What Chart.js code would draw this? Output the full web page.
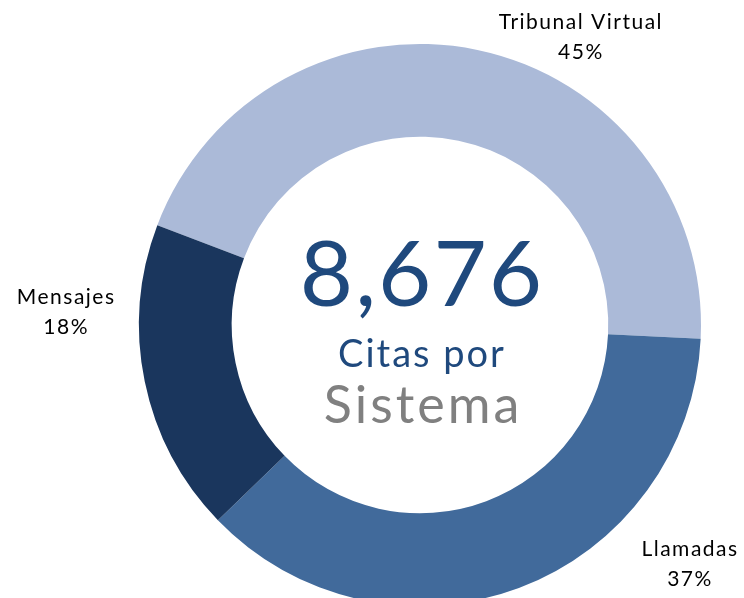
<!DOCTYPE html>
<html>
<head>
<meta charset="utf-8">
<script src="https://cdn.jsdelivr.net/npm/chart.js@4.4.1/dist/chart.umd.min.js"></script>
<style>
  html, body { margin: 0; padding: 0; background: #fff; overflow: hidden; width: 744px; height: 598px; }
  canvas { display: block; }
</style>
</head>
<body>
<canvas id="c" width="744" height="650"></canvas>
<script>
const categories = ['Tribunal Virtual', 'Llamadas', 'Mensajes'];
const citas = [3904, 3210, 1562];
const percentLabels = ['45%', '37%', '18%'];
const totalLabel = '8,676';
const centerLine1 = 'Citas por';
const centerLine2 = 'Sistema';
const colors = ['#ABBAD8', '#416A9B', '#1A365D'];

// label placement: angle (deg clockwise from top) and distance factor of outer radius
const labelPlacement = [
  { angle: 29.2, dist: 1.174 },
  { angle: 131.6, dist: 1.285 },
  { angle: 272.1, dist: 1.26 }
];

const labelPlugin = {
  id: 'outerLabels',
  afterDraw(chart) {
    const ctx = chart.ctx;
    const meta = chart.getDatasetMeta(0);
    const arc = meta.data[0];
    const cx = arc.x, cy = arc.y, r = arc.outerRadius;
    ctx.save();
    ctx.fillStyle = '#000';
    ctx.textAlign = 'center';
    ctx.textBaseline = 'middle';
    ctx.font = '21px Lato';
    try { ctx.letterSpacing = '1.5px'; } catch (e) {}
    categories.forEach((cat, i) => {
      const p = labelPlacement[i];
      const a = (p.angle - 90) * Math.PI / 180;
      const x = cx + Math.cos(a) * r * p.dist;
      const y = cy + Math.sin(a) * r * p.dist;
      ctx.fillText(cat, x, y - 15);
      ctx.fillText(percentLabels[i], x, y + 15);
    });
    // center text
    ctx.textBaseline = 'alphabetic';
    ctx.fillStyle = '#1F497D';
    try { ctx.letterSpacing = '2px'; } catch (e) {}
    ctx.font = '400 92px Lato';
    ctx.fillText(totalLabel, cx + 2, cy - 19);
    try { ctx.letterSpacing = '2px'; } catch (e) {}
    ctx.font = '400 38px Lato';
    ctx.fillText(centerLine1, cx + 2, cy + 42);
    ctx.fillStyle = '#808080';
    try { ctx.letterSpacing = '3px'; } catch (e) {}
    ctx.font = '400 52px Lato';
    ctx.fillText(centerLine2, cx + 3, cy + 98);
    ctx.restore();
  }
};

new Chart(document.getElementById('c'), {
  type: 'doughnut',
  data: {
    labels: categories,
    datasets: [{
      data: citas,
      backgroundColor: colors,
      borderWidth: 0,
      hoverOffset: 0
    }]
  },
  options: {
    responsive: false,
    animation: false,
    rotation: 290.8,
    cutout: '67%',
    layout: { padding: { left: 139, right: 43, top: 44, bottom: 44 } },
    plugins: {
      legend: { display: false },
      tooltip: { enabled: false }
    }
  },
  plugins: [labelPlugin]
});
</script>
</body>
</html>
